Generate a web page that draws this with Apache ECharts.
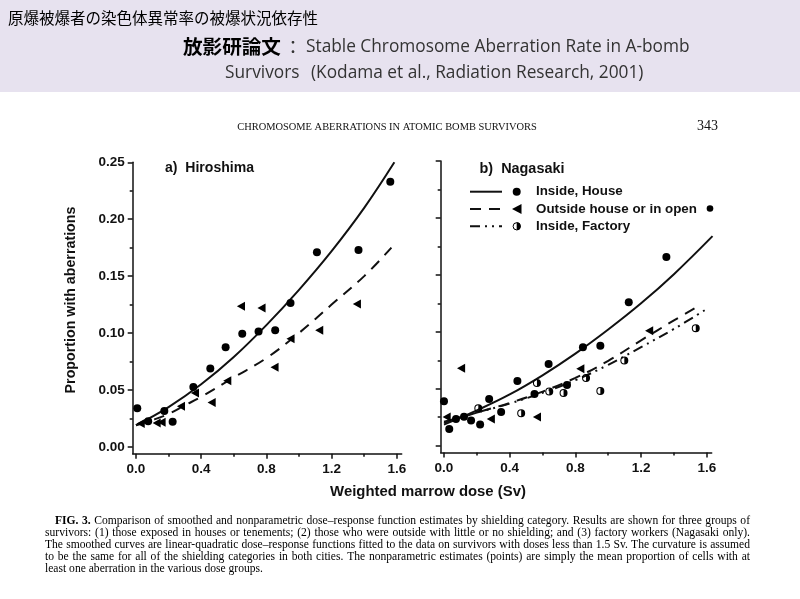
<!DOCTYPE html>
<html><head><meta charset="utf-8">
<script src="https://cdn.jsdelivr.net/npm/echarts@6/dist/echarts.min.js"></script>
<style>html,body{margin:0;padding:0;background:#fff}#c{width:800px;height:599px}</style>
</head><body><div id="c"></div>
<script>
// ---------- DATA ----------
const xTicks = [0, 0.4, 0.8, 1.2, 1.6];
const xTickLabels = ['0.0', '0.4', '0.8', '1.2', '1.6'];
const xMinorTicks = [0.2, 0.6, 1.0, 1.4];
const yTicks = [0, 0.05, 0.10, 0.15, 0.20, 0.25];
const yTickLabels = ['0.00', '0.05', '0.10', '0.15', '0.20', '0.25'];
const yMinorTicks = [0.025, 0.075, 0.125, 0.175, 0.225];

// Hiroshima points
const hiroHouseDose = [0.008, 0.075, 0.174, 0.225, 0.352, 0.456, 0.55, 0.652, 0.752, 0.854, 0.948, 1.11, 1.365, 1.56];
const hiroHouseRate = [0.034, 0.0225, 0.0316, 0.022, 0.0527, 0.0688, 0.0875, 0.0993, 0.1013, 0.1025, 0.1265, 0.171, 0.173, 0.233];
const hiroOutDose = [0.029, 0.127, 0.157, 0.276, 0.362, 0.464, 0.56, 0.644, 0.77, 0.85, 0.948, 1.124, 1.355];
const hiroOutRate = [0.0205, 0.021, 0.0216, 0.0357, 0.0474, 0.039, 0.058, 0.1235, 0.122, 0.07, 0.095, 0.1025, 0.1255];
// Hiroshima fitted curves
const hiroHouseCurveDose = [0, 0.2, 0.4, 0.6, 0.8, 1.0, 1.2, 1.4, 1.585];
const hiroHouseCurveRate = [0.019, 0.035, 0.055, 0.079, 0.107, 0.138, 0.172, 0.210, 0.25];
const hiroOutCurveDose = [0, 0.1, 0.2, 0.3, 0.4, 0.6, 0.8, 1.0, 1.2, 1.4, 1.567];
const hiroOutCurveRate = [0.019, 0.0235, 0.029, 0.0365, 0.044, 0.061, 0.078, 0.100, 0.125, 0.150, 0.175];

// Nagasaki points
const nagaHouseDose = [0, 0.032, 0.073, 0.122, 0.165, 0.22, 0.275, 0.348, 0.447, 0.551, 0.637, 0.749, 0.846, 0.952, 1.125, 1.354];
const nagaHouseRate = [0.039, 0.0147, 0.0235, 0.0255, 0.022, 0.0185, 0.041, 0.0295, 0.0568, 0.0454, 0.0718, 0.0533, 0.0865, 0.0878, 0.126, 0.1656];
const nagaOutDose = [0.016, 0.104, 0.285, 0.566, 0.83, 1.249];
const nagaOutRate = [0.0252, 0.068, 0.0235, 0.0252, 0.0675, 0.101];
const nagaFactDose = [0.209, 0.47, 0.566, 0.641, 0.728, 0.865, 0.952, 1.098, 1.533];
const nagaFactRate = [0.0328, 0.0284, 0.0551, 0.0475, 0.0463, 0.0595, 0.0481, 0.0748, 0.1032];
// Nagasaki fitted curves
const nagaHouseCurveDose = [0, 0.2, 0.4, 0.6, 0.8, 1.0, 1.2, 1.4, 1.635];
const nagaHouseCurveRate = [0.0185, 0.031, 0.045, 0.0618, 0.0808, 0.102, 0.125, 0.1506, 0.184];
const nagaOutCurveDose = [0, 0.2, 0.4, 0.6, 0.8, 1.0, 1.2, 1.4, 1.56];
const nagaOutCurveRate = [0.02, 0.029, 0.0375, 0.0475, 0.0595, 0.0745, 0.0925, 0.110, 0.1235];
const nagaFactCurveDose = [0, 0.2, 0.4, 0.6, 0.8, 1.0, 1.2, 1.4, 1.61];
const nagaFactCurveRate = [0.021, 0.029, 0.037, 0.0465, 0.0575, 0.071, 0.0865, 0.1025, 0.121];

const legendNames = ['Inside, House', 'Outside house or in open', 'Inside, Factory'];
const panelTitles = ['a)  Hiroshima', 'b)  Nagasaki'];
const xAxisTitle = 'Weighted marrow dose (Sv)';
const yAxisTitle = 'Proportion with aberrations';
const slideTitle = '原爆被爆者の染色体異常率の被爆状況依存性';
const paperLabel = '放影研論文';
const paperTitle1 = 'Stable Chromosome Aberration Rate in A-bomb';
const paperTitle2a = 'Survivors';
const paperTitle2b = '(Kodama et al., Radiation Research, 2001)';
const runningHead = 'CHROMOSOME ABERRATIONS IN ATOMIC BOMB SURVIVORS';
const pageNo = '343';
const captionLines = [
  'FIG. 3. Comparison of smoothed and nonparametric dose–response function estimates by shielding category. Results are shown for three groups of',
  'survivors: (1) those exposed in houses or tenements; (2) those who were outside with little or no shielding; and (3) factory workers (Nagasaki only).',
  'The smoothed curves are linear-quadratic dose–response functions fitted to the data on survivors with doses less than 1.5 Sv. The curvature is assumed',
  'to be the same for all of the shielding categories in both cities. The nonparametric estimates (points) are simply the mean proportion of cells with at',
  'least one aberration in the various dose groups.'
];

// ---------- helpers ----------
const zip = (a, b) => a.map((v, i) => [v, b[i]]);
const cv = document.createElement('canvas').getContext('2d');
function textW(t, font) { cv.font = font; return cv.measureText(t).width; }
function fitSize(t, weight, family, w) { return 100 * w / textW(t, weight + ' 100px ' + family); }
const INK = '#111';
const SANS = '"Liberation Sans", Arial, sans-serif';
const SERIF = '"Liberation Serif", "Times New Roman", serif';
const pick = (vals, labels) => v => { const i = vals.findIndex(t => Math.abs(t - v) < 1e-9); return i >= 0 ? labels[i] : ''; };

const TRI = 'path://M0,5L9,0L9,10Z';
const HALF = 'path://M10,0A10,10,0,1,1,10,20A10,10,0,1,1,10,0ZM10,2.6A7.4,7.4,0,0,0,10,17.4Z';

// ---------- axes ----------
const XMIN = -0.02, XMAX = 1.63, YMIN = -0.006, YMAX = 0.25;
function xAxes(grid) {
  return [
    { gridIndex: grid, type: 'value', position: 'bottom', min: XMIN, max: XMAX,
      axisLine: { onZero: false, lineStyle: { color: INK, width: 1.5 } },
      axisTick: { customValues: xTicks, length: 5, lineStyle: { color: INK, width: 1.5 } },
      axisLabel: { customValues: xTicks, formatter: pick(xTicks, xTickLabels), color: INK, fontWeight: 'bold', fontFamily: SANS, fontSize: 13.5, margin: 9 },
      splitLine: { show: false } },
    { gridIndex: grid, type: 'value', position: 'bottom', min: XMIN, max: XMAX,
      axisLine: { show: false, onZero: false },
      axisTick: { customValues: xMinorTicks, length: 3, lineStyle: { color: INK, width: 1.5 } },
      axisLabel: { show: false }, splitLine: { show: false } }
  ];
}
function yAxes(grid, labels) {
  return [
    { gridIndex: grid, type: 'value', position: 'left', min: YMIN, max: YMAX,
      axisLine: { show: true, onZero: false, lineStyle: { color: INK, width: 1.5 } },
      axisTick: { show: true, customValues: yTicks, length: 5, lineStyle: { color: INK, width: 1.5 } },
      axisLabel: { show: labels, customValues: yTicks, formatter: pick(yTicks, yTickLabels), color: INK, fontWeight: 'bold', fontFamily: SANS, fontSize: 13.5, margin: 8 },
      splitLine: { show: false } },
    { gridIndex: grid, type: 'value', position: 'left', min: YMIN, max: YMAX,
      axisLine: { show: false, onZero: false },
      axisTick: { show: true, customValues: yMinorTicks, length: 3, lineStyle: { color: INK, width: 1.5 } },
      axisLabel: { show: false }, splitLine: { show: false } }
  ];
}

// ---------- series ----------
function curve(xi, yi, dose, rate, type) {
  return { type: 'line', xAxisIndex: xi, yAxisIndex: yi, data: zip(dose, rate), symbol: 'none', showSymbol: false,
    smooth: 0.4, silent: true, z: 2, lineStyle: { color: INK, width: 2, type: type, cap: 'butt', opacity: 1 } };
}
function pts(xi, yi, dose, rate, symbol, size) {
  return { type: 'scatter', xAxisIndex: xi, yAxisIndex: yi, data: zip(dose, rate), symbol: symbol, symbolSize: size,
    symbolKeepAspect: true, silent: true, z: 3, itemStyle: { color: '#000', opacity: 1 } };
}
const DASH = [11, 8];
const DASHDOT = [10, 5, 2, 5, 2, 5];
const series = [
  curve(0, 0, hiroHouseCurveDose, hiroHouseCurveRate, 'solid'),
  curve(0, 0, hiroOutCurveDose, hiroOutCurveRate, DASH),
  pts(0, 0, hiroHouseDose, hiroHouseRate, 'circle', 8),
  pts(0, 0, hiroOutDose, hiroOutRate, TRI, 9),
  curve(2, 2, nagaHouseCurveDose, nagaHouseCurveRate, 'solid'),
  curve(2, 2, nagaOutCurveDose, nagaOutCurveRate, DASH),
  curve(2, 2, nagaFactCurveDose, nagaFactCurveRate, DASHDOT),
  pts(2, 2, nagaHouseDose, nagaHouseRate, 'circle', 8),
  pts(2, 2, nagaOutDose, nagaOutRate, TRI, 9),
  pts(2, 2, nagaFactDose, nagaFactRate, HALF, 8)
];

// ---------- graphic (texts, legend) ----------
const g = [];
function txt(x, y, text, font, extra) {
  g.push({ type: 'text', x: x, y: y, silent: true, z: 10,
    style: Object.assign({ text: text, font: font, fill: INK, align: 'left', verticalAlign: 'middle' }, extra || {}) });
}
// header band
g.push({ type: 'rect', shape: { x: 0, y: 0, width: 800, height: 92 }, style: { fill: '#e7e2ef' }, silent: true, z: 0 });
const JP = '"Noto Sans CJK JP", sans-serif';
txt(8, 18, slideTitle, 'normal ' + fitSize(slideTitle, 'normal', JP, 310).toFixed(2) + 'px ' + JP, { fill: '#000' });
txt(183, 47, paperLabel, 'bold ' + fitSize(paperLabel, 'bold', JP, 98).toFixed(2) + 'px ' + JP, { fill: '#000' });
txt(284, 47, '：', 'normal 18px ' + JP, { fill: '#333' });
const OS = '"Open Sans", sans-serif';
const hs = fitSize(paperTitle1, 'normal', OS, 384);
txt(306, 47, paperTitle1, 'normal ' + hs.toFixed(2) + 'px ' + OS, { fill: '#333' });
txt(225, 73, paperTitle2a, 'normal ' + hs.toFixed(2) + 'px ' + OS, { fill: '#333' });
txt(311, 73, paperTitle2b, 'normal ' + hs.toFixed(2) + 'px ' + OS, { fill: '#333' });
// paper running head
txt(387, 127, runningHead, 'normal ' + fitSize(runningHead, 'normal', SERIF, 300).toFixed(2) + 'px ' + SERIF, { align: 'center' });
txt(718, 126, pageNo, 'normal 14px ' + SERIF, { align: 'right' });
// panel titles
txt(165, 168.5, panelTitles[0], 'bold ' + fitSize(panelTitles[0], 'bold', SANS, 89).toFixed(2) + 'px ' + SANS);
txt(479.5, 169.5, panelTitles[1], 'bold ' + fitSize(panelTitles[1], 'bold', SANS, 85).toFixed(2) + 'px ' + SANS);
// axis titles
g.push({ type: 'text', x: 71, y: 300, rotation: Math.PI / 2, silent: true, z: 10,
  style: { text: yAxisTitle, font: 'bold ' + fitSize(yAxisTitle, 'bold', SANS, 187).toFixed(2) + 'px ' + SANS, fill: INK, align: 'center', verticalAlign: 'middle' } });
txt(428, 492, xAxisTitle, 'bold ' + fitSize(xAxisTitle, 'bold', SANS, 196).toFixed(2) + 'px ' + SANS, { align: 'center' });
// legend
const lgFont = 'bold ' + fitSize(legendNames[1], 'bold', SANS, 161).toFixed(2) + 'px ' + SANS;
const lgY = [191.7, 209, 226.3];
const lgDash = [null, DASH, DASHDOT];
lgY.forEach((y, i) => {
  g.push({ type: 'line', silent: true, z: 10, shape: { x1: 470, y1: y, x2: 502, y2: y },
    style: { stroke: INK, lineWidth: 2, lineDash: lgDash[i] } });
  txt(536, y, legendNames[i], lgFont);
});
g.push({ type: 'circle', silent: true, z: 10, shape: { cx: 516.7, cy: lgY[0], r: 4 }, style: { fill: '#000' } });
g.push({ type: 'polygon', silent: true, z: 10, shape: { points: [[512, lgY[1]], [521.5, lgY[1] - 5], [521.5, lgY[1] + 5]] }, style: { fill: '#000' } });
g.push({ type: 'circle', silent: true, z: 10, shape: { cx: 516.7, cy: lgY[2], r: 3.6 }, style: { fill: '#fff', stroke: '#000', lineWidth: 1 } });
g.push({ type: 'sector', silent: true, z: 11, shape: { cx: 516.7, cy: lgY[2], r: 4, r0: 0, startAngle: -Math.PI / 2, endAngle: Math.PI / 2 }, style: { fill: '#000' } });
g.push({ type: 'circle', silent: true, z: 10, shape: { cx: 710, cy: 208.5, r: 3.3 }, style: { fill: '#000' } });

// caption (justified)
const capFont = s => s + 'px ' + SERIF;
let capSize = 100;
captionLines.slice(0, 4).forEach((line, li) => {
  const target = li === 0 ? 695 : 705;
  capSize = Math.min(capSize, fitSize(line, 'normal', SERIF, target));
});
capSize = Math.min(capSize * 0.99, 11.6);
const capY = [521, 533, 545, 557, 568.5];
captionLines.forEach((line, li) => {
  const x0 = li === 0 ? 55 : 45, x1 = 750;
  const words = line.split(' ');
  const fonts = words.map((w, wi) => (li === 0 && wi < 2 ? 'bold ' : 'normal ') + capFont(capSize.toFixed(2)));
  const widths = words.map((w, wi) => textW(w, fonts[wi]));
  const total = widths.reduce((a, b) => a + b, 0);
  const last = li === captionLines.length - 1;
  const gap = last ? textW(' ', 'normal ' + capFont(capSize.toFixed(2))) : (x1 - x0 - total) / (words.length - 1);
  let x = x0;
  words.forEach((w, wi) => { txt(x, capY[li], w, fonts[wi], { fill: '#000' }); x += widths[wi] + gap; });
});

// ---------- chart ----------
const chart = echarts.init(document.getElementById('c'), null, { renderer: 'canvas' });
chart.setOption({
  animation: false,
  backgroundColor: '#fff',
  grid: [
    { left: 132.7, top: 162.3, width: 269, height: 291.4, containLabel: false },
    { left: 440.7, top: 161, width: 271, height: 291.5, containLabel: false }
  ],
  xAxis: xAxes(0).concat(xAxes(1)),
  yAxis: yAxes(0, true).concat(yAxes(1, false)),
  series: series,
  graphic: { elements: g }
});
</script></body></html>
